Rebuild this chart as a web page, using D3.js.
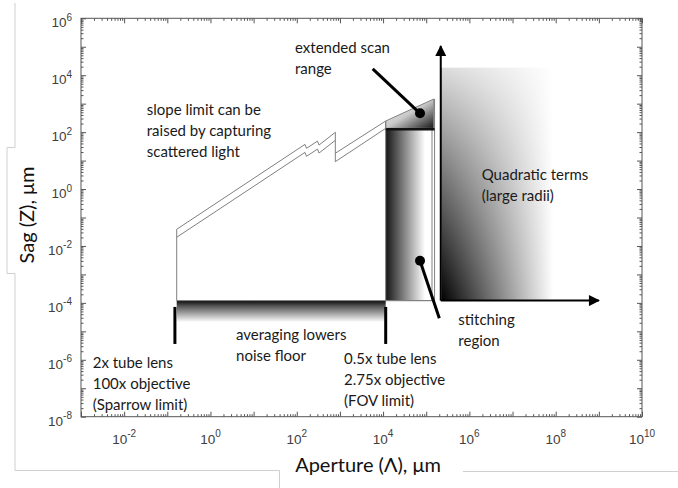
<!DOCTYPE html>
<html><head><meta charset="utf-8">
<script src="https://cdn.jsdelivr.net/npm/d3@7"></script>
<style>body{margin:0;background:#fff}svg{display:block}</style>
</head><body>
<svg id="c" width="678" height="488"></svg>
<script>
// ---- data ----
const xDomain = [1e-3, 1e10];
const yDomain = [1e-8, 1e6];
const xTickExps = [-2, 0, 2, 4, 6, 8, 10];
const yTickExps = [-8, -6, -4, -2, 0, 2, 4, 6];
const xLabel = "Aperture (Λ), μm";
const yLabel = "Sag (Z), μm";

// slope limit band (two parallel lines with jogs)
const upperSeg1 = [[0.165,0.0385],[155,37.1],[168,26.9],[303,48.4],[328,35.1],[782,98.6],[782,9.14]];
const lowerSeg1 = [[0.165,0.0202],[155,19.4],[168,14.1],[303,25.4],[328,18.4],[782,51.6]];
const upperSeg2 = [[782,18.1],[11500,246]];
const lowerSeg2 = [[782,9.14],[11500,136]];
const leftEdge = [[0.165,1.2e-4],[0.165,0.0385]];
const stepEdge = [[11500,136],[11500,246]];
const scanTriangle = [[11500,246],[1.5e5,1460],[1.5e5,136],[11500,136]];
const stitchRect = {x0:11500, x1:1.36e5, y0:1.2e-4, y1:136};
const rightEdge = [[1.56e5,1460],[1.56e5,1.2e-4]];
const noiseBand = {x0:0.165, x1:11500, y0:2.1e-5, y1:1.2e-4};
const limitBars = [[0.15,3.6e-6,7.2e-5],[11500,3.6e-6,7.2e-5]];
const vArrow = [[2.17e5,1.2e-4],[2.17e5,1.06e5]];
const hArrow = [[2.17e5,1.2e-4],[1.0e9,1.2e-4]];
const quadRegion = {x0:2.25e5, x1:8.7e7, y0:1.2e-4, y1:1.8e4};
const pointers = [
  {from:[5750,16600], dot:[71800,459]},
  {from:[2.01e5,2.9e-5], dot:[71800,3.04e-3]}
];
const notes = [
  {x:0.0334, y:600, lines:["slope limit can be","raised by capturing","scattered light"]},
  {x:91, y:9.0e4, lines:["extended scan","range"]},
  {x:1.93e6, y:3.12, lines:["Quadratic terms","(large radii)"]},
  {x:3.91, y:7.45e-6, lines:["averaging lowers","noise floor"]},
  {x:1.87e-3, y:7.9e-7, lines:["2x tube lens","100x objective","(Sparrow limit)"]},
  {x:1245, y:1.04e-6, lines:["0.5x tube lens","2.75x objective","(FOV limit)"]},
  {x:5.55e5, y:2.5e-5, lines:["stitching","region"]}
];

// ---- drawing ----
const svg = d3.select("#c");
const L = 81, R = 642, T = 18.3, B = 416.7;
const x = d3.scaleLog().domain(xDomain).range([L, R]);
const y = d3.scaleLog().domain(yDomain).range([B, T]);
const P = d => [x(d[0]), y(d[1])];
const line = d3.line().x(d => x(d[0])).y(d => y(d[1]));
const gray = "#808080";
const noteFont = "Lato, 'Open Sans', sans-serif";

svg.append("rect").attr("width", 678).attr("height", 488).attr("fill", "#fff");

// frame artefacts
const frame = d3.path();
frame.moveTo(15,3); frame.lineTo(15,147.5); frame.lineTo(7,147.5); frame.lineTo(7,273.5); frame.lineTo(15,273.5);
frame.lineTo(15,470.5); frame.lineTo(279.5,470.5); frame.lineTo(279.5,488);
frame.moveTo(463,471.5); frame.lineTo(678,471.5);
svg.append("path").attr("d", frame.toString()).attr("fill","none").attr("stroke","#cfcfcf").attr("stroke-width",1);

const defs = svg.append("defs");
function lin(id, x1,y1,x2,y2, stops){
  const g = defs.append("linearGradient").attr("id",id).attr("x1",x1).attr("y1",y1).attr("x2",x2).attr("y2",y2);
  stops.forEach(s => g.append("stop").attr("offset",s[0]).attr("stop-color",s[1]).attr("stop-opacity", s[2]===undefined?1:s[2]));
}
lin("noiseG",0,0,0,1,[[0,"#0a0a0a"],[0.25,"#555"],[1,"#fff"]]);
lin("stitchG",0,0,1,0,[[0,"#151515"],[0.85,"#fff"],[1,"#fff"]]);
lin("triG",0,0,1,1,[[0,"#fff"],[0.5,"#c8c8c8"],[1,"#151515"]]);
lin("quadH",0,0,1,0,[[0,"#000"],[1,"#fff"]]);
lin("quadV",0,0,0,1,[[0,"#fff",0.86],[1,"#fff",0]]);
const mk = defs.append("marker").attr("id","ah").attr("viewBox","0 0 10 10").attr("refX",9).attr("refY",5)
  .attr("markerWidth",8).attr("markerHeight",5.5).attr("markerUnits","strokeWidth").attr("orient","auto");
mk.append("path").attr("d","M0,0L10,5L0,10Z").attr("fill","#000");

// quadratic region
function rectOf(r){ return {x:x(r.x0), y:y(r.y1), w:x(r.x1)-x(r.x0), h:y(r.y0)-y(r.y1)}; }
const q = rectOf(quadRegion);
svg.append("rect").attr("x",q.x).attr("y",q.y).attr("width",q.w).attr("height",q.h).attr("fill","url(#quadH)");
svg.append("rect").attr("x",q.x).attr("y",q.y).attr("width",q.w).attr("height",q.h).attr("fill","url(#quadV)");

// noise band
const nb = rectOf(noiseBand);
svg.append("rect").attr("x",nb.x).attr("y",nb.y).attr("width",nb.w).attr("height",nb.h).attr("fill","url(#noiseG)");
svg.append("line").attr("x1",nb.x).attr("x2",nb.x+nb.w).attr("y1",nb.y).attr("y2",nb.y).attr("stroke",gray);

// stitch rect
const sr = rectOf(stitchRect);
svg.append("rect").attr("x",sr.x).attr("y",sr.y).attr("width",sr.w).attr("height",sr.h)
  .attr("fill","url(#stitchG)").attr("stroke",gray).attr("stroke-width",1);
svg.append("path").attr("d", line(rightEdge)).attr("fill","none").attr("stroke",gray);
svg.append("line").attr("x1",sr.x).attr("x2",x(rightEdge[0][0])).attr("y1",sr.y+sr.h).attr("y2",sr.y+sr.h).attr("stroke",gray);

// extended scan triangle
svg.append("path").attr("d", line(scanTriangle)+"Z").attr("fill","url(#triG)").attr("stroke",gray);
svg.append("line").attr("x1",sr.x).attr("x2",x(rightEdge[0][0])).attr("y1",sr.y+1).attr("y2",sr.y+1).attr("stroke","#111").attr("stroke-width",2.5);

// band lines
[upperSeg1, lowerSeg1, upperSeg2, lowerSeg2, leftEdge, stepEdge].forEach(seg =>
  svg.append("path").attr("d", line(seg)).attr("fill","none").attr("stroke",gray).attr("stroke-width",1));

// limit bars
limitBars.forEach(b => svg.append("line").attr("x1",x(b[0])).attr("x2",x(b[0])).attr("y1",y(b[1])).attr("y2",y(b[2]))
  .attr("stroke","#000").attr("stroke-width",3));

// arrows
[vArrow, hArrow].forEach(a => svg.append("path").attr("d", line(a)).attr("fill","none").attr("stroke","#000")
  .attr("stroke-width",2).attr("marker-end","url(#ah)"));

// pointers
pointers.forEach(p => {
  const [x1,y1] = P(p.from), [x2,y2] = P(p.dot);
  svg.append("line").attr("x1",x1).attr("y1",y1).attr("x2",x2).attr("y2",y2).attr("stroke","#000").attr("stroke-width",3);
  svg.append("circle").attr("cx",x2).attr("cy",y2).attr("r",5).attr("fill","#000");
});

// notes
notes.forEach(n => {
  const t = svg.append("text").attr("font-family", noteFont).attr("font-size",15).attr("fill","#1a1a1a");
  n.lines.forEach((s,i) => t.append("tspan").attr("x", x(n.x)).attr("y", y(n.y) + i*21 + 5).text(s));
});

// axes box and ticks
svg.append("rect").attr("x",L).attr("y",T).attr("width",R-L).attr("height",B-T).attr("fill","none").attr("stroke","#555").attr("stroke-width",1);
function minors(dom){
  const out=[]; const a=Math.log10(dom[0]), b=Math.log10(dom[1]);
  for(let e=a;e<b;e++) for(let m=2;m<=9;m++) out.push(m*Math.pow(10,e));
  return out;
}
function majors(dom){ const out=[]; for(let e=Math.log10(dom[0]); e<=Math.log10(dom[1]); e++) out.push(Math.pow(10,e)); return out; }
const tickStyle = g => { g.select(".domain").remove(); g.selectAll("line").attr("stroke","#555"); g.selectAll("text").remove(); };
svg.append("g").attr("transform",`translate(0,${B})`).call(d3.axisBottom(x).tickValues(majors(xDomain)).tickSize(-5)).call(tickStyle);
svg.append("g").attr("transform",`translate(0,${B})`).call(d3.axisBottom(x).tickValues(minors(xDomain)).tickSize(-2.5)).call(tickStyle);
svg.append("g").attr("transform",`translate(0,${T})`).call(d3.axisTop(x).tickValues(majors(xDomain)).tickSize(-5)).call(tickStyle);
svg.append("g").attr("transform",`translate(0,${T})`).call(d3.axisTop(x).tickValues(minors(xDomain)).tickSize(-2.5)).call(tickStyle);
svg.append("g").attr("transform",`translate(${L},0)`).call(d3.axisLeft(y).tickValues(majors(yDomain)).tickSize(-5)).call(tickStyle);
svg.append("g").attr("transform",`translate(${L},0)`).call(d3.axisLeft(y).tickValues(minors(yDomain)).tickSize(-2.5)).call(tickStyle);
svg.append("g").attr("transform",`translate(${R},0)`).call(d3.axisRight(y).tickValues(majors(yDomain)).tickSize(-5)).call(tickStyle);
svg.append("g").attr("transform",`translate(${R},0)`).call(d3.axisRight(y).tickValues(minors(yDomain)).tickSize(-2.5)).call(tickStyle);

// tick labels
const tickFont = "'Liberation Sans', Arial, sans-serif";
function sup(t, e){ t.append("tspan").text("10"); t.append("tspan").attr("dy",-6.5).attr("font-size",10).text(e); }
xTickExps.forEach(e => {
  const t = svg.append("text").attr("x", x(Math.pow(10,e))).attr("y", B+27).attr("text-anchor","middle")
    .attr("font-family",tickFont).attr("font-size",13.5).attr("fill","#404040");
  sup(t, e);
});
yTickExps.forEach(e => {
  const t = svg.append("text").attr("x", L-9).attr("y", y(Math.pow(10,e))+9).attr("text-anchor","end")
    .attr("font-family",tickFont).attr("font-size",13.5).attr("fill","#404040");
  sup(t, e);
});

// axis titles
svg.append("text").attr("x",368).attr("y",472).attr("text-anchor","middle").attr("font-family",noteFont)
  .attr("font-size",20).attr("fill","#111").text(xLabel);
svg.append("text").attr("transform","translate(34,215) rotate(-90)").attr("text-anchor","middle").attr("font-family",noteFont)
  .attr("font-size",20).attr("fill","#111").text(yLabel);
</script>
</body></html>
